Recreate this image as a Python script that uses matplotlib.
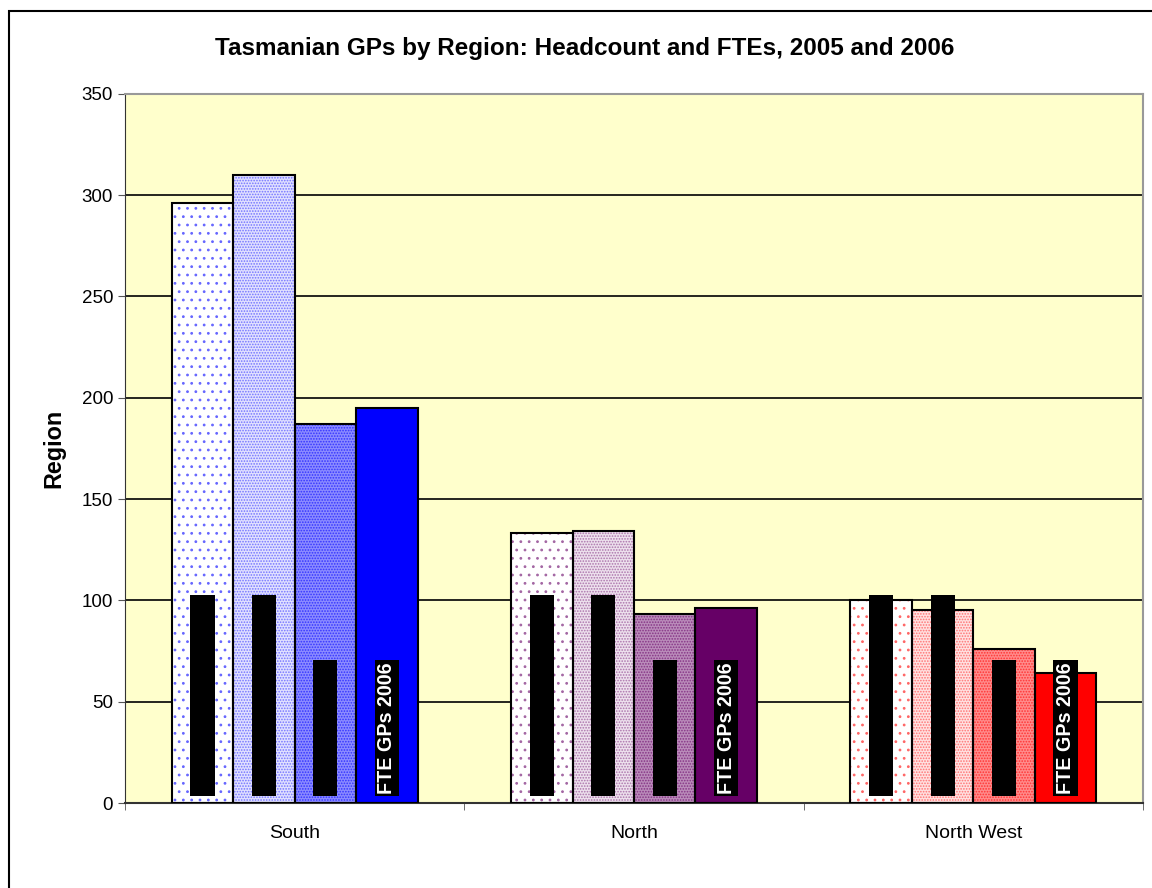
import numpy as np
import matplotlib
matplotlib.use("Agg")
import matplotlib.pyplot as plt
from matplotlib.patches import Rectangle
from matplotlib.colors import to_rgb

plt.rcParams["font.family"] = ["Liberation Sans", "DejaVu Sans"]
plt.rcParams["hatch.linewidth"] = 0.8

regions = ["South", "North", "North West"]
series = ["Headcount GPs 2005", "Headcount GPs 2006", "FTE GPs 2005", "FTE GPs 2006"]
values = {
    "Headcount GPs 2005": [296, 133, 100],
    "Headcount GPs 2006": [310, 134, 95],
    "FTE GPs 2005": [187, 93.5, 76],
    "FTE GPs 2006": [195, 96, 64],
}
region_colors = ["#0000FF", "#660066", "#FF0000"]


def blend(c, t):
    r, g, b = to_rgb(c)
    return (1 - t + t * r, 1 - t + t * g, 1 - t + t * b)


# pattern per series: (face tint, hatch tint, hatch)
patterns = [(0.0, 0.6, ".."), (0.12, 0.55, "......"), (0.45, 0.8, "......"), (1.0, 1.0, None)]
label_colors = ["black", "black", "black", "white"]

fig = plt.figure(figsize=(11.52, 8.88), dpi=100)
ax = fig.add_axes([125 / 1152, 1 - 803 / 888, (1143 - 125) / 1152, (803 - 93.7) / 888])

# outer chart border
fig.patches.append(Rectangle((9 / 1152, -0.05), 1.1, 1.05 - 11 / 888, transform=fig.transFigure,
                             fill=False, edgecolor="black", linewidth=1.5))

ax.set_facecolor("#FFFFCC")
x = np.arange(len(regions))
width = 0.181
offsets = (np.arange(len(series)) - 1.5) * width

for si, name in enumerate(series):
    tint, htint, hatch = patterns[si]
    for ri in range(len(regions)):
        col = region_colors[ri]
        v = values[name][ri]
        xpos = x[ri] + offsets[si]
        face = blend(col, tint)
        ax.bar(xpos, v, width, color=face, edgecolor=blend(col, htint) if hatch else face,
               hatch=hatch, linewidth=0, zorder=2)
        ax.bar(xpos, v, width, facecolor="none", edgecolor="black", linewidth=1.5, zorder=3)
        ax.text(xpos, 4.5, name, rotation=90, ha="center", va="bottom",
                fontsize=14.2, fontweight="bold", color=label_colors[si], zorder=4,
                bbox=dict(facecolor="black", edgecolor="none", pad=1.8))

ax.set_ylim(0, 350)
ax.set_xlim(-0.5, 2.5)
ax.set_yticks(np.arange(0, 351, 50))
ax.yaxis.grid(True, color="black", linewidth=1.2)
ax.set_axisbelow(True)
ax.tick_params(axis="y", labelsize=13.5, direction="out", length=5, color="#555555")

ax.set_xticks(x)
ax.set_xticklabels(regions, fontsize=14)
ax.tick_params(axis="x", which="major", length=0, pad=16)
ax.set_xticks([-0.5, 0.5, 1.5, 2.5], minor=True)
ax.tick_params(axis="x", which="minor", length=5, direction="out", color="#555555")

for s in ["top", "right"]:
    ax.spines[s].set_color("#999999")
    ax.spines[s].set_linewidth(1.5)
ax.spines["left"].set_color("#333333")
ax.spines["bottom"].set_color("#333333")
ax.spines["bottom"].set_linewidth(1.5)

ax.set_ylabel("Region", fontsize=16.8, fontweight="bold", labelpad=12)
fig.text(585 / 1152, 1 - 48 / 888, "Tasmanian GPs by Region: Headcount and FTEs, 2005 and 2006",
         ha="center", va="center", fontsize=17.5, fontweight="bold")

fig.savefig("out.png", dpi=100)
